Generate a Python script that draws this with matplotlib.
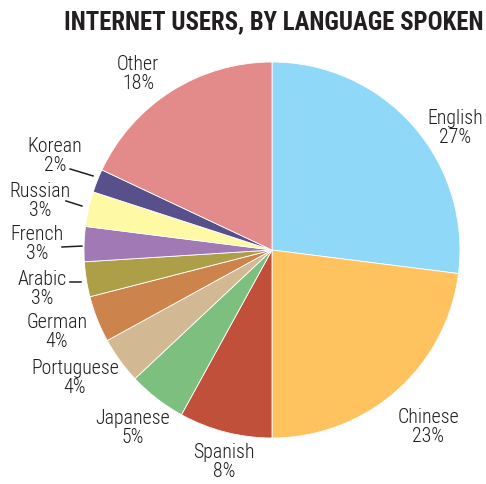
import matplotlib
matplotlib.use("Agg")
import matplotlib.pyplot as plt
from matplotlib import font_manager

installed = {f.name for f in font_manager.fontManager.ttflist}
FONT = next((n for n in ["Roboto Condensed", "Archivo Narrow", "Barlow Semi Condensed",
                         "Liberation Sans"] if n in installed), "DejaVu Sans")

LANGUAGES = ["English", "Chinese", "Spanish", "Japanese", "Portuguese", "German",
             "Arabic", "French", "Russian", "Korean", "Other"]
SHARES = [27, 23, 8, 5, 4, 4, 3, 3, 3, 2, 18]
COLORS = ["#8fd8f8", "#fec35e", "#c1503a", "#7cbf7e", "#d2b994", "#cd844c",
          "#ac9f48", "#a079b5", "#fef9a5", "#58508a", "#e38a8a"]

# label centres (pie radius units)
LABEL_POS = [(0.973, 0.649), (0.830, -0.941), (-0.255, -1.128), (-0.739, -0.947),
             (-1.048, -0.681), (-1.144, -0.436), (-1.223, -0.207), (-1.250, 0.032),
             (-1.234, 0.261), (-1.154, 0.500), (-0.713, 0.936)]
# leader lines (start, end) for the small slices
LEADERS = {
    "Arabic": ((-1.074, -0.170), (-1.016, -0.170)),
    "French": ((-1.117, 0.016), (-1.011, 0.021)),
    "Russian": ((-1.096, 0.261), (-1.011, 0.234)),
    "Korean": ((-1.074, 0.431), (-0.952, 0.394)),
}

plt.rcParams["font.family"] = [FONT, "DejaVu Sans"]

fig = plt.figure(figsize=(4.86, 4.84), dpi=100)
ax = fig.add_axes([84 / 486, 46 / 484, 376 / 486, 376 / 484])
ax.pie(SHARES, colors=COLORS, startangle=90, counterclock=False, radius=1,
       wedgeprops={"edgecolor": "white", "linewidth": 0.6})
ax.set_xlim(-1, 1)
ax.set_ylim(-1, 1)
ax.set_aspect("equal")
ax.axis("off")

for name, share, (x, y) in zip(LANGUAGES, SHARES, LABEL_POS):
    ax.text(x, y, f"{name}\n{share}%", ha="center", va="center", fontsize=14.3,
            fontweight="light", color="#1e1c1d", linespacing=1.0, clip_on=False)

for (x0, y0), (x1, y1) in LEADERS.values():
    ax.plot([x0, x1], [y0, y1], color="#231f20", lw=1.1, clip_on=False)

fig.text(483 / 486, 1 - 22 / 484, "INTERNET USERS, BY LANGUAGE SPOKEN",
         ha="right", va="center", fontsize=17.8, fontweight="bold", color="#231f20")

fig.savefig("out.png", dpi=100)
